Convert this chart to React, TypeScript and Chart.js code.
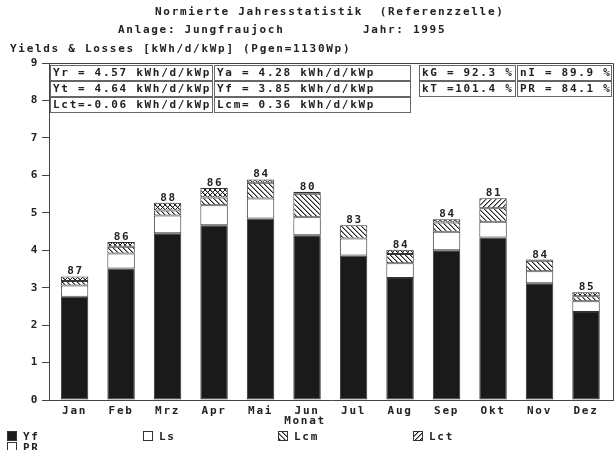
import React, { useEffect, useRef } from "react";
import { Chart, registerables } from "chart.js";

Chart.register(...registerables);

// Monthly normalised yields and losses [kWh/d/kWp]
const MONTHS = ["Jan", "Feb", "Mrz", "Apr", "Mai", "Jun", "Jul", "Aug", "Sep", "Okt", "Nov", "Dez"];
const YF = [2.76, 3.51, 4.45, 4.67, 4.85, 4.40, 3.86, 3.26, 4.00, 4.34, 3.12, 2.35];
const LS = [0.30, 0.40, 0.48, 0.53, 0.53, 0.48, 0.45, 0.39, 0.49, 0.42, 0.32, 0.29];
const LCM = [0.24, 0.31, 0.34, 0.46, 0.51, 0.68, 0.36, 0.36, 0.34, 0.36, 0.31, 0.24];
const LCT = [-0.12, -0.13, -0.21, -0.25, -0.09, -0.05, 0.0, -0.11, -0.09, 0.27, -0.03, -0.11];
const PR = [87, 86, 88, 86, 84, 80, 83, 84, 84, 81, 84, 85];

// Annual summary boxes
const STATS_LEFT = [
  ["Yr = 4.57 kWh/d/kWp", "Ya = 4.28 kWh/d/kWp"],
  ["Yt = 4.64 kWh/d/kWp", "Yf = 3.85 kWh/d/kWp"],
  ["Lct=-0.06 kWh/d/kWp", "Lcm= 0.36 kWh/d/kWp"],
];
const STATS_RIGHT = [
  ["kG = 92.3 %", "nI = 89.9 %"],
  ["kT =101.4 %", "PR = 84.1 %"],
];

const TITLE = "Normierte Jahresstatistik  (Referenzzelle)";
const PLANT = "Anlage: Jungfraujoch";
const YEAR = "Jahr: 1995";
const Y_TITLE = "Yields & Losses [kWh/d/kWp] (Pgen=1130Wp)";
const X_TITLE = "Monat";
const LEGEND = ["Yf", "Ls", "Lcm", "Lct", "PR"];

const FONT = "'DejaVu Sans Mono', monospace";
const INK = "#222";
const LINE = "#444";

type Kind = "back" | "fwd" | "cross";

function makePattern(kind: Kind): CanvasPattern | string {
  const n = 5;
  const c = document.createElement("canvas");
  c.width = n;
  c.height = n;
  const g = c.getContext("2d");
  if (!g) return "#fff";
  g.fillStyle = "#fff";
  g.fillRect(0, 0, n, n);
  for (let i = 0; i < n; i++) {
    if (kind === "back" || kind === "cross") {
      g.fillStyle = "#222";
      g.fillRect(i, i, 1, 1);
      g.fillStyle = "#999";
      g.fillRect((i + 1) % n, i, 1, 1);
    }
    if (kind === "fwd" || kind === "cross") {
      g.fillStyle = "#222";
      g.fillRect(n - 1 - i, i, 1, 1);
      if (kind === "fwd") {
        g.fillStyle = "#999";
        g.fillRect((n - i) % n, i, 1, 1);
      }
    }
  }
  const p = g.createPattern(c, "repeat");
  return p || "#fff";
}

function setText(ctx: CanvasRenderingContext2D, size = 11) {
  ctx.font = `bold ${size}px ${FONT}`;
  (ctx as any).letterSpacing = "1.7px";
  ctx.fillStyle = INK;
  ctx.textBaseline = "middle";
  ctx.textAlign = "left";
}

export default function App() {
  const ref = useRef<HTMLCanvasElement | null>(null);

  useEffect(() => {
    document.body.style.margin = "0";
    const canvas = ref.current;
    if (!canvas) return;

    const back = makePattern("back");
    const fwd = makePattern("fwd");
    const cross = makePattern("cross");

    // Thermal gain (negative Lct) is shown cross-hatched inside the Lcm band
    const lcmNet = LCM.map((v, i) => v + Math.min(LCT[i], 0));
    const lctGain = LCT.map((v) => (v < 0 ? -v : null));
    const lctLoss = LCT.map((v) => (v > 0 ? v : null));
    const pts = (arr: (number | null)[]) => arr.map((y, i) => ({ x: i, y }));

    const common = {
      borderColor: "#333",
      borderWidth: 1,
      borderSkipped: false as const,
      barPercentage: 0.59,
      categoryPercentage: 1,
    };

    const decor = {
      id: "decor",
      beforeDraw(chart: any) {
        (chart.ctx as any).letterSpacing = "1.7px";
      },
      afterDatasetsDraw(chart: any) {
        const ctx: CanvasRenderingContext2D = chart.ctx;
        const xs = chart.scales.x;
        const ys = chart.scales.y;
        ctx.save();
        setText(ctx);
        ctx.textAlign = "center";
        ctx.textBaseline = "alphabetic";
        MONTHS.forEach((_, i) => {
          const top = YF[i] + LS[i] + lcmNet[i] + (lctGain[i] || 0) + (lctLoss[i] || 0);
          ctx.fillText(String(PR[i]), xs.getPixelForValue(i) + 1, ys.getPixelForValue(top) - 2);
        });
        ctx.restore();
      },
      afterDraw(chart: any) {
        const ctx: CanvasRenderingContext2D = chart.ctx;
        const a = chart.chartArea;
        ctx.save();
        // frame (top and right)
        ctx.strokeStyle = LINE;
        ctx.lineWidth = 1;
        ctx.beginPath();
        ctx.moveTo(Math.round(a.left) + 0.5, Math.round(a.top) + 0.5);
        ctx.lineTo(Math.round(a.right) + 0.5, Math.round(a.top) + 0.5);
        ctx.lineTo(Math.round(a.right) + 0.5, Math.round(a.bottom) + 0.5);
        ctx.stroke();

        // headings
        setText(ctx);
        ctx.fillText(TITLE, 155, 12);
        ctx.fillText(PLANT, 118, 30);
        ctx.fillText(YEAR, 363, 30);
        ctx.fillText(Y_TITLE, 10, 49);
        ctx.textAlign = "center";
        ctx.fillText(X_TITLE, 305, 421);

        // summary boxes
        const rowTop = [65, 81, 97];
        const rowH = 15;
        const leftCols = [
          [50, 212],
          [214, 410],
        ];
        const rightCols = [
          [419, 515],
          [517, 611],
        ];
        const drawBox = (x0: number, x1: number, y0: number, txt: string) => {
          ctx.fillStyle = "#fff";
          ctx.fillRect(x0, y0, x1 - x0, rowH);
          ctx.strokeStyle = "#666";
          ctx.lineWidth = 1;
          ctx.strokeRect(x0 + 0.5, y0 + 0.5, x1 - x0, rowH);
          setText(ctx);
          ctx.fillText(txt, x0 + 3, y0 + rowH / 2 + 1);
        };
        STATS_LEFT.forEach((row, r) =>
          row.forEach((t, c) => drawBox(leftCols[c][0], leftCols[c][1], rowTop[r], t))
        );
        STATS_RIGHT.forEach((row, r) =>
          row.forEach((t, c) => drawBox(rightCols[c][0], rightCols[c][1], rowTop[r], t))
        );

        // legend
        const fills: (CanvasPattern | string)[] = ["#1a1a1a", "#fff", back, fwd, "#fff"];
        const pos = [
          [7, 436],
          [143, 436],
          [278, 436],
          [413, 436],
          [7, 447],
        ];
        LEGEND.forEach((name, i) => {
          const [x, y] = pos[i];
          ctx.fillStyle = fills[i] as any;
          ctx.fillRect(x, y - 5, 10, 10);
          ctx.strokeStyle = "#333";
          ctx.strokeRect(x + 0.5, y - 4.5, 9, 9);
          setText(ctx);
          ctx.fillText(name, x + 16, y + 1);
        });
        ctx.restore();
      },
    };

    const tickFont = { family: FONT, size: 11, weight: "bold" as const };

    const chart = new Chart(canvas, {
      type: "bar",
      data: {
        datasets: [
          { label: "Yf", data: pts(YF), backgroundColor: "#1a1a1a", ...common },
          { label: "Ls", data: pts(LS), backgroundColor: "#fff", ...common },
          { label: "Lcm", data: pts(lcmNet), backgroundColor: back as any, ...common },
          { label: "Lct gain", data: pts(lctGain), backgroundColor: cross as any, ...common },
          { label: "Lct", data: pts(lctLoss), backgroundColor: fwd as any, ...common },
        ],
      },
      options: {
        responsive: false,
        animation: false,
        devicePixelRatio: 1,
        layout: { padding: { top: 63, right: 3, left: 0, bottom: 0 } },
        plugins: { legend: { display: false }, tooltip: { enabled: false }, title: { display: false } },
        scales: {
          x: {
            type: "linear",
            min: -0.55,
            max: 11.58,
            offset: false,
            stacked: true,
            afterBuildTicks: (s: any) => {
              s.ticks = MONTHS.map((_, i) => ({ value: i }));
            },
            afterFit: (s: any) => {
              s.height = 50;
            },
            ticks: {
              callback: (v: any) => MONTHS[v] ?? "",
              autoSkip: false,
              maxRotation: 0,
              padding: 5,
              color: INK,
              font: tickFont,
            },
            grid: { display: false, drawTicks: false, offset: false },
            border: { display: true, color: LINE, width: 1 },
          },
          y: {
            min: 0,
            max: 9,
            stacked: true,
            afterFit: (s: any) => {
              s.width = 49;
            },
            ticks: { stepSize: 1, color: INK, font: tickFont, padding: 3 },
            grid: { drawOnChartArea: false, drawTicks: true, tickLength: 7, color: LINE },
            border: { display: true, color: LINE, width: 1 },
          },
        },
      },
      plugins: [decor],
    } as any);

    return () => chart.destroy();
  }, []);

  return (
    <div style={{ width: 616, height: 450, background: "#fff" }}>
      <canvas ref={ref} width={616} height={450} style={{ width: 616, height: 450, display: "block" }} />
    </div>
  );
}
